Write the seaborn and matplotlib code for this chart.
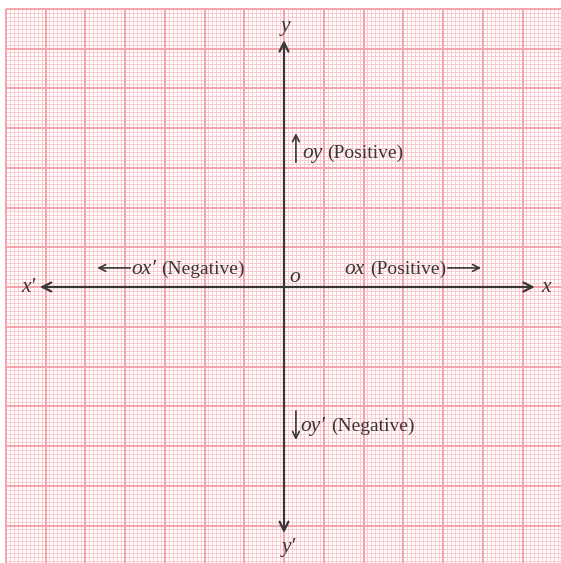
import numpy as np
import matplotlib
matplotlib.use("Agg")
import matplotlib.pyplot as plt
import seaborn as sns

# ---- data (labels) ----
axis_labels = ["x", "x\u2032", "y", "y\u2032"]
origin_label = "o"
direction_names = ["ox", "ox\u2032", "oy", "oy\u2032"]
direction_words = ["(Positive)", "(Negative)", "(Positive)", "(Negative)"]

sns.set_theme(style="white")
plt.rcParams["font.family"] = ["Liberation Serif", "DejaVu Serif"]

S = 39.75  # pixels per grid unit
ox_px, oy_px = 284.0, 287.0
W, H = 561, 563

fig = plt.figure(figsize=(W / 100, H / 100), dpi=100)
ax = fig.add_axes([0, 0, 1, 1])
ax.set_xlim(-ox_px / S, (W - ox_px) / S)
ax.set_ylim(-(H - oy_px) / S, oy_px / S)
ax.set_axis_off()
ax.set_facecolor("white")

xmin, xmax = -7.0, (W - ox_px) / S + 0.2
ymin, ymax = -(H - oy_px) / S - 0.2, 7.0

minor_c = "#fbcbcf"
major_c = "#f4a4ab"
px = 0.72  # one pixel in points
for k in range(-70, 75):
    v = k / 10
    if k % 10 == 0:
        continue
    if xmin <= v <= xmax:
        ax.vlines(v, ymin, ymax, color=minor_c, lw=px, antialiased=False, zorder=1)
    if ymin <= v <= ymax:
        ax.hlines(v, xmin, xmax, color=minor_c, lw=px, antialiased=False, zorder=1)
for k in range(-7, 8):
    v = float(k)
    if xmin <= v <= xmax:
        ax.vlines(v, ymin, ymax, color=major_c, lw=2 * px, antialiased=False, zorder=2)
    if ymin <= v <= ymax:
        ax.hlines(v, xmin, xmax, color=major_c, lw=2 * px, antialiased=False, zorder=2)

axis_c = "#3b3535"
arrow_kw = dict(arrowstyle="->", color=axis_c, lw=1.6, mutation_scale=16, shrinkA=0, shrinkB=0)
ax.annotate("", xy=(6.31, 0), xytext=(0, 0), arrowprops=arrow_kw, zorder=5)
ax.annotate("", xy=(-6.14, 0), xytext=(0, 0), arrowprops=arrow_kw, zorder=5)
ax.annotate("", xy=(0, 6.21), xytext=(0, 0), arrowprops=arrow_kw, zorder=5)
ax.annotate("", xy=(0, -6.19), xytext=(0, 0), arrowprops=arrow_kw, zorder=5)

lab_kw = dict(color=axis_c, fontsize=15.5, style="italic", zorder=6)
ax.text(6.58, -0.02, axis_labels[0], ha="center", va="center", **lab_kw)
ax.text(-6.44, -0.02, axis_labels[1], ha="center", va="center", **lab_kw)
ax.text(0.03, 6.55, axis_labels[2], ha="center", va="center", **lab_kw)
ax.text(0.12, -6.55, axis_labels[3], ha="center", va="center", **lab_kw)
ax.text(0.28, 0.25, origin_label, ha="center", va="center", **lab_kw)

small_arrow = dict(arrowstyle="->", color=axis_c, lw=1.2, mutation_scale=12, shrinkA=0, shrinkB=0)
txt_c = "#3b3535"

fig.canvas.draw()
renderer = fig.canvas.get_renderer()
inv = ax.transData.inverted()


def dlabel(x, y, name, word):
    t1 = ax.text(x, y, name, ha="left", va="baseline", color=txt_c, fontsize=15.5,
                 style="italic", zorder=6)
    bb = t1.get_window_extent(renderer)
    x1 = inv.transform((bb.x1 + 5, 0))[0]
    t2 = ax.text(x1, y, word, ha="left", va="baseline", color=txt_c, fontsize=14, zorder=6)
    bb2 = t2.get_window_extent(renderer)
    return inv.transform((bb2.x1, 0))[0]


# ox (Positive) ->
xe = dlabel(1.53, 0.33, direction_names[0], direction_words[0])
ax.annotate("", xy=(xe + 0.88, 0.48), xytext=(xe + 0.04, 0.48), arrowprops=small_arrow, zorder=6)
# <- ox' (Negative)
ax.annotate("", xy=(-4.70, 0.48), xytext=(-3.87, 0.48), arrowprops=small_arrow, zorder=6)
dlabel(-3.85, 0.33, direction_names[1], direction_words[1])
# ^ oy (Positive)
ax.annotate("", xy=(0.30, 3.87), xytext=(0.30, 3.14), arrowprops=small_arrow, zorder=6)
dlabel(0.45, 3.25, direction_names[2], direction_words[2])
# v oy' (Negative)
ax.annotate("", xy=(0.30, -3.85), xytext=(0.30, -3.12), arrowprops=small_arrow, zorder=6)
dlabel(0.42, -3.62, direction_names[3], direction_words[3])

fig.savefig("out.png", dpi=100, facecolor="white")
